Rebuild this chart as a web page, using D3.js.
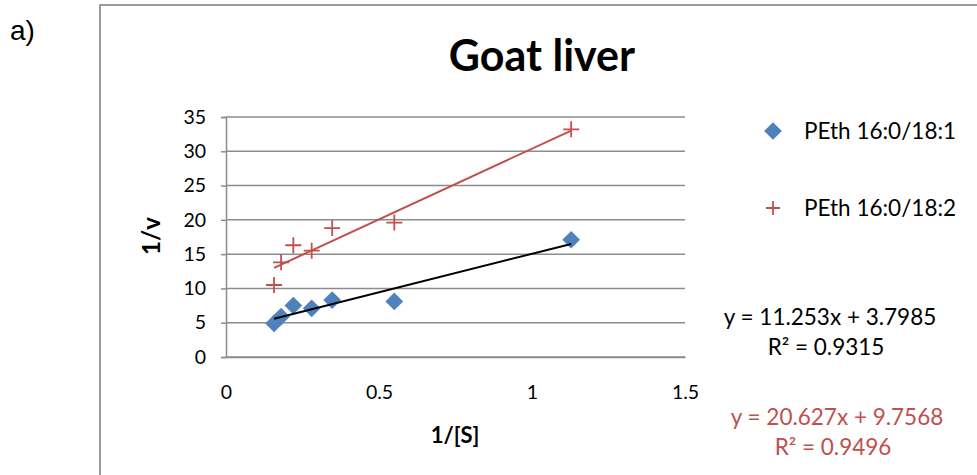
<!DOCTYPE html>
<html>
<head>
<meta charset="utf-8">
<script src="https://cdn.jsdelivr.net/npm/d3@7"></script>
<style>
  body { margin: 0; background: #fff; }
  svg text { font-family: Lato, "Open Sans", sans-serif; }
</style>
</head>
<body>
<svg id="chart" width="977" height="475"></svg>
<script>
// 1/[S] values and 1/v readings for each lipid
const invS = [0.157, 0.18, 0.22, 0.28, 0.347, 0.55, 1.128];
const pethA = [4.9, 5.9, 7.5, 7.1, 8.3, 8.1, 17.1];      // PEth 16:0/18:1
const pethB = [10.5, 13.8, 16.3, 15.5, 18.8, 19.6, 33.2]; // PEth 16:0/18:2
const seriesNames = ["PEth 16:0/18:1", "PEth 16:0/18:2"];
const slopes = [11.253, 20.627];
const intercepts = [3.7985, 9.7568];
const rSquared = ["0.9315", "0.9496"];
const xTicks = [0, 0.5, 1, 1.5];
const yTicks = [0, 5, 10, 15, 20, 25, 30, 35];

const svg = d3.select("#chart");
const blue = "#4F81BD", red = "#C0504D", grid = "#8c8c8c";

const x = d3.scaleLinear().domain([0, 1.5]).range([226, 685]);
const y = d3.scaleLinear().domain([0, 35]).range([357, 117]);

// panel label
svg.append("text").attr("x", 10).attr("y", 40)
    .style("font-family", "Liberation Sans, Arial, sans-serif")
    .style("font-size", "28px").text("a)");

// chart frame
svg.append("rect").attr("x", 100).attr("y", 5).attr("width", 890).attr("height", 480)
    .attr("fill", "none").attr("stroke", "#9a9a9a").attr("stroke-width", 2);

// title
svg.append("text").attr("x", 542).attr("y", 71).attr("text-anchor", "middle")
    .style("font-size", "43px").style("font-weight", "bold").text("Goat liver");

// gridlines
svg.append("g").selectAll("line").data(yTicks).join("line")
    .attr("x1", x(0)).attr("x2", x(1.5))
    .attr("y1", d => y(d)).attr("y2", d => y(d))
    .attr("stroke", grid).attr("stroke-width", 1.5);

// axes
const yAxis = svg.append("g").attr("transform", `translate(${x(0)},0)`)
    .call(d3.axisLeft(y).tickValues(yTicks).tickSize(5).tickPadding(15));
const xAxis = svg.append("g").attr("transform", `translate(0,${y(0)})`)
    .call(d3.axisBottom(x).tickValues(xTicks).tickSize(0).tickPadding(42).tickFormat(d3.format("")));
[yAxis, xAxis].forEach(a => {
    a.select(".domain").attr("stroke", grid).attr("stroke-width", 1.5);
    a.selectAll(".tick line").attr("stroke", grid).attr("stroke-width", 1.5);
    a.selectAll("text").style("font-size", "19.5px").style("font-family", "Lato, sans-serif").attr("fill", "#000");
});
xAxis.selectAll("text").attr("dy", "0");

// axis titles
svg.append("text").attr("transform", "translate(160,236) rotate(-90)")
    .attr("text-anchor", "middle").style("font-size", "24px").style("font-weight", "bold").text("1/v");
svg.append("text").attr("x", 455).attr("y", 443).attr("text-anchor", "middle")
    .style("font-size", "22px").style("font-weight", "bold").text("1/[S]");

// markers
const diamond = d3.symbol().type(d3.symbolDiamond2).size(200);
const cross = s => `M${-s},0H${s}M0,${-s}V${s}`;

svg.append("g").selectAll("path").data(invS).join("path")
    .attr("transform", (d, i) => `translate(${x(d)},${y(pethB[i])})`)
    .attr("d", cross(8)).attr("stroke", red).attr("stroke-width", 1.8).attr("fill", "none");

svg.append("g").selectAll("path").data(invS).join("path")
    .attr("transform", (d, i) => `translate(${x(d)},${y(pethA[i])})`)
    .attr("d", diamond).attr("fill", blue);

// linear trendlines over the data range, drawn above the markers
const [xMin, xMax] = d3.extent(invS);
const trendColors = ["#000", red];
slopes.forEach((m, i) => {
    svg.append("line")
        .attr("x1", x(xMin)).attr("y1", y(m * xMin + intercepts[i]))
        .attr("x2", x(xMax)).attr("y2", y(m * xMax + intercepts[i]))
        .attr("stroke", trendColors[i]).attr("stroke-width", 2);
});

// legend
const legend = svg.append("g");
legend.append("path").attr("transform", "translate(773,131)").attr("d", diamond).attr("fill", blue);
legend.append("path").attr("transform", "translate(773,208)").attr("d", cross(7))
    .attr("stroke", red).attr("stroke-width", 1.8).attr("fill", "none");
[131, 208].forEach((cy, i) => {
    legend.append("text").attr("x", 804).attr("y", cy).attr("dy", "0.35em")
        .style("font-size", "22.5px").text(seriesNames[i]);
});

// equations
const eqPos = [[830, 317], [837, 417]];
slopes.forEach((m, i) => {
    const g = svg.append("g").attr("fill", trendColors[i]).style("font-size", "22.5px");
    g.append("text").attr("x", eqPos[i][0]).attr("y", eqPos[i][1]).attr("dy", "0.35em")
        .attr("text-anchor", "middle").text(`y = ${m}x + ${intercepts[i]}`);
    g.append("text").attr("x", eqPos[i][0] - 4).attr("y", eqPos[i][1] + 30).attr("dy", "0.35em")
        .attr("text-anchor", "middle").text(`R² = ${rSquared[i]}`);
});
</script>
</body>
</html>
